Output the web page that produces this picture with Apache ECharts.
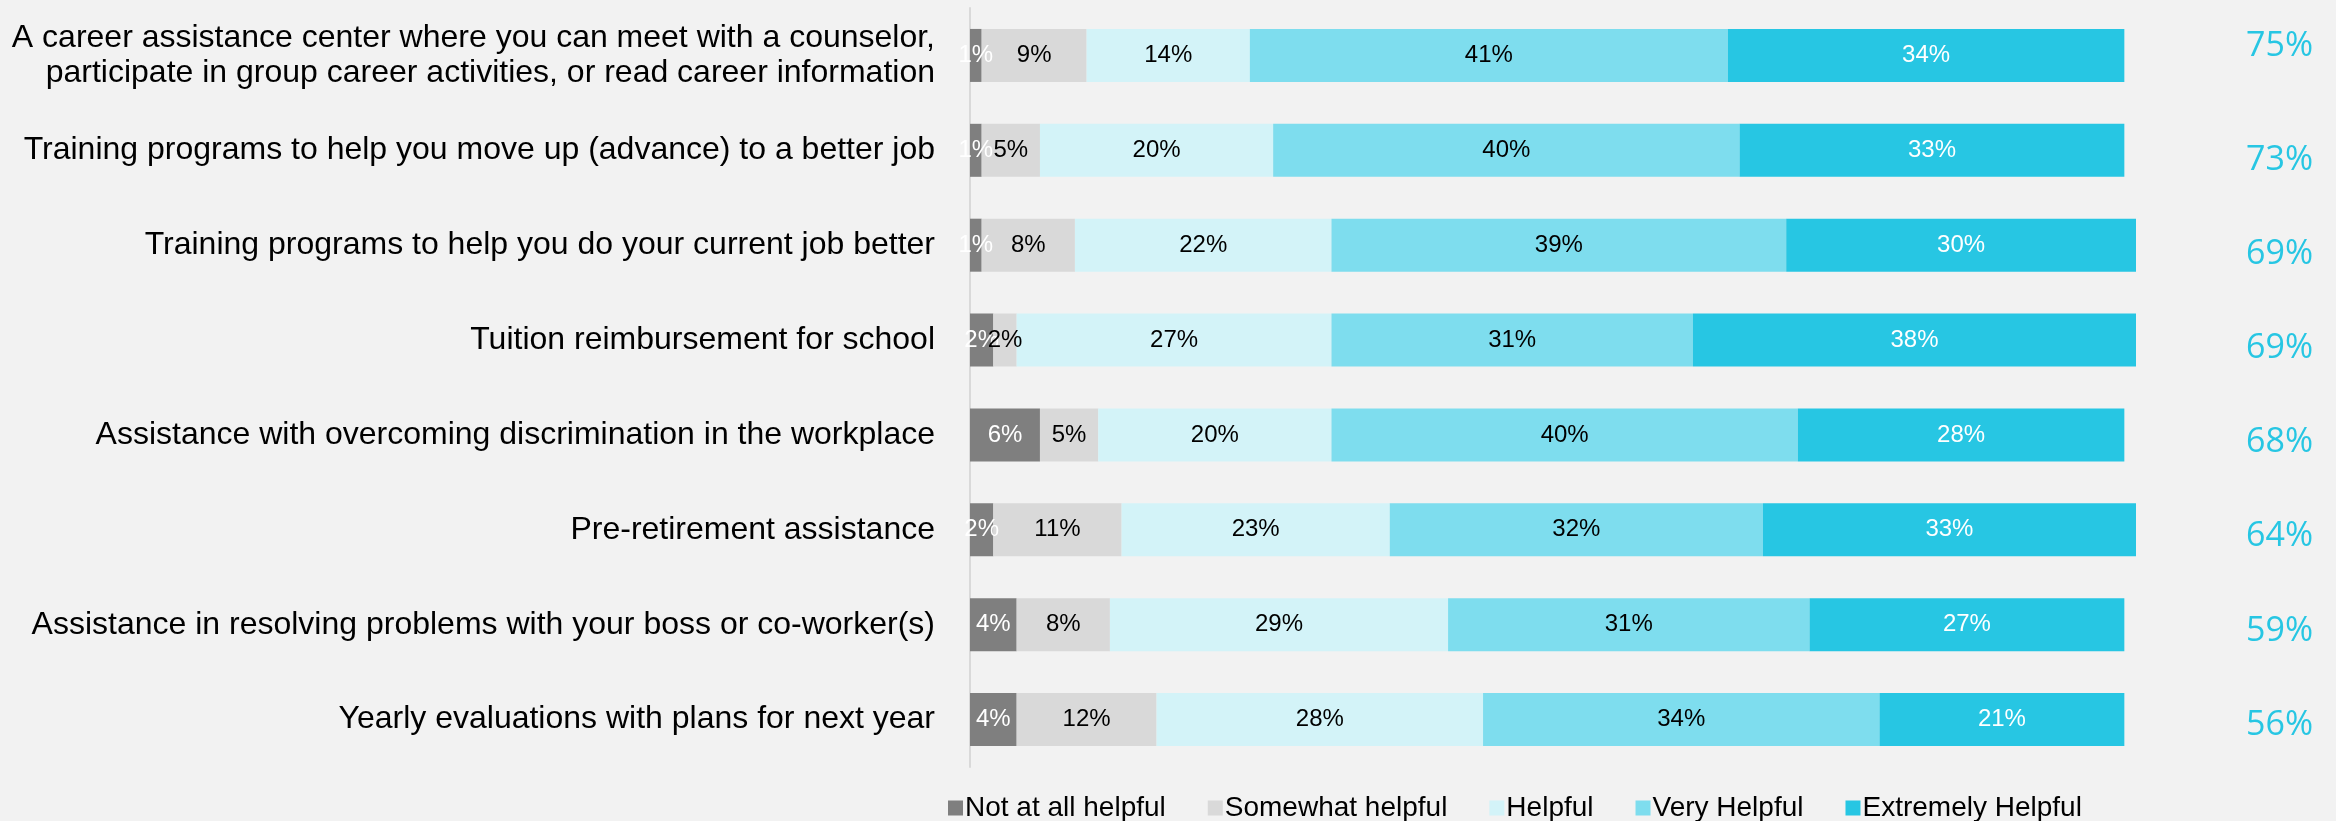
<!DOCTYPE html>
<html>
<head>
<meta charset="utf-8">
<style>
  html, body { margin: 0; padding: 0; background: #F2F2F2; }
  #chart { width: 2336px; height: 821px; }
</style>
<script src="https://cdn.jsdelivr.net/npm/echarts@6/dist/echarts.min.js"></script>
</head>
<body>
<div id="chart"></div>
<script>
// Workplace support services, rated by helpfulness (percent of respondents)
const categories = [
  'A career assistance center where you can meet with a counselor,\nparticipate in group career activities, or read career information',
  'Training programs to help you move up (advance) to a better job',
  'Training programs to help you do your current job better',
  'Tuition reimbursement for school',
  'Assistance with overcoming discrimination in the workplace',
  'Pre-retirement assistance',
  'Assistance in resolving problems with your boss or co-worker(s)',
  'Yearly evaluations with plans for next year'
];
const seriesNames = ['Not at all helpful', 'Somewhat helpful', 'Helpful', 'Very Helpful', 'Extremely Helpful'];
const notAtAll   = [1, 1, 1, 2, 6, 2, 4, 4];
const somewhat   = [9, 5, 8, 2, 5, 11, 8, 12];
const helpful    = [14, 20, 22, 27, 20, 23, 29, 28];
const veryHelp   = [41, 40, 39, 31, 40, 32, 31, 34];
const extremely  = [34, 33, 30, 38, 28, 33, 27, 21];
// Share rating "Very" or "Extremely" helpful, as reported
const topTwo     = [75, 73, 69, 69, 68, 64, 59, 56];

const colors = ['#7F7F7F', '#D9D9D9', '#D3F3F8', '#7EDDEE', '#27C6E3'];
const labelColors = ['#FFFFFF', '#000000', '#000000', '#000000', '#FFFFFF'];
const values = [notAtAll, somewhat, helpful, veryHelp, extremely];

const chart = echarts.init(document.getElementById('chart'), null, { renderer: 'canvas' });

const barSeries = values.map((data, i) => ({
  name: seriesNames[i],
  type: 'bar',
  stack: 'total',
  xAxisIndex: 0,
  yAxisIndex: 0,
  barWidth: 53,
  data: data,
  itemStyle: { color: colors[i] },
  label: {
    show: true,
    position: 'inside',
    formatter: '{c}%',
    color: labelColors[i],
    fontFamily: 'Liberation Sans, Arial, sans-serif',
    fontSize: 24
  }
}));

chart.setOption({
  backgroundColor: '#F2F2F2',
  animation: false,
  color: colors,
  grid: [
    { left: 970, right: 200, top: 8, bottom: 54 },
    { left: 970, right: 200, top: 19, bottom: 49 }
  ],
  xAxis: [
    { type: 'value', gridIndex: 0, min: 0, max: 100, show: false },
    { type: 'value', gridIndex: 1, min: 0, max: 100, show: false }
  ],
  yAxis: [
    {
      type: 'category',
      gridIndex: 0,
      inverse: true,
      data: categories,
      axisLine: { show: true, lineStyle: { color: '#D9D9D9', width: 2 } },
      axisTick: { show: false },
      splitLine: { show: false },
      axisLabel: {
        margin: 35,
        color: '#000000',
        fontFamily: 'Liberation Sans, Arial, sans-serif',
        fontSize: 32,
        lineHeight: 35,
        align: 'right'
      }
    },
    {
      type: 'category',
      gridIndex: 1,
      position: 'right',
      inverse: true,
      data: topTwo.map(v => v + '%'),
      axisLine: { show: false },
      axisTick: { show: false },
      splitLine: { show: false },
      axisLabel: {
        margin: 110,
        align: 'left',
        color: '#27C6E3',
        fontFamily: 'Open Sans, sans-serif',
        fontSize: 34,
        lineHeight: 40,
        formatter: (value, index) => index === 0 ? value + '\n ' : value
      }
    }
  ],
  legend: {
    left: 943,
    top: 789,
    itemWidth: 15,
    itemHeight: 15,
    itemGap: 42,
    icon: 'rect',
    textStyle: {
      color: '#000000',
      fontFamily: 'Liberation Sans, Arial, sans-serif',
      fontSize: 28,
      padding: [0, 0, 0, -3]
    },
    data: seriesNames
  },
  series: barSeries
});
</script>
</body>
</html>
